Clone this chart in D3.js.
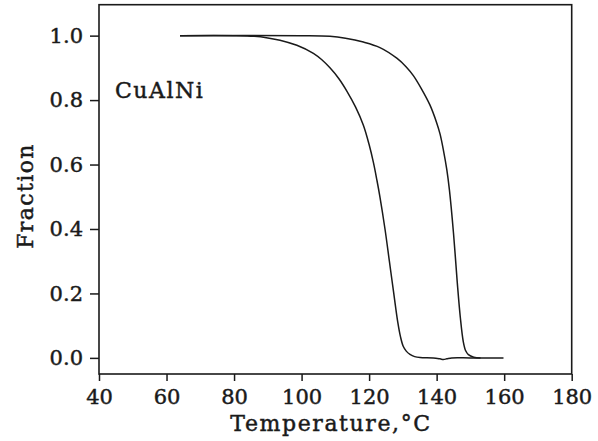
<!DOCTYPE html>
<html>
<head>
<meta charset="utf-8">
<script src="https://cdn.jsdelivr.net/npm/d3@7/dist/d3.min.js"></script>
<style>
  html, body { margin: 0; padding: 0; background: #fff; }
  svg { display: block; }
</style>
</head>
<body>
<div id="chart"></div>
<script>
// ---- data ----
const tempsA = [64, 80, 86, 90, 93.6, 98.6, 103.5, 106, 108.4, 111, 113.4, 116, 118.3, 120, 121.3, 122.3, 123.2, 124.7, 126, 127.3, 128.5, 129.3, 130.1, 131, 132.1, 133.5, 135.1, 139, 141, 142, 143, 144.5, 150, 159.8];
const fracA  = [1.0, 1.0, 0.998, 0.993, 0.986, 0.97, 0.945, 0.925, 0.9, 0.867, 0.828, 0.778, 0.722, 0.662, 0.605, 0.552, 0.5, 0.4, 0.3, 0.2, 0.11, 0.065, 0.036, 0.021, 0.011, 0.004, 0.001, 0.0, -0.003, -0.005, -0.003, 0.0, 0.0, 0.0];
const tempsB = [64, 100, 108.4, 113, 118.3, 123.2, 128.2, 131, 133.1, 135.5, 138.0, 140, 141, 142, 143, 143.8, 145.0, 146.1, 147.0, 147.9, 148.6, 149.4, 151, 153];
const fracB  = [1.0, 1.0, 0.998, 0.992, 0.98, 0.963, 0.93, 0.903, 0.876, 0.835, 0.785, 0.73, 0.695, 0.645, 0.585, 0.52, 0.386, 0.235, 0.127, 0.05, 0.022, 0.01, 0.002, 0.0];
const xTicks = [40, 60, 80, 100, 120, 140, 160, 180];
const yTicks = [0.0, 0.2, 0.4, 0.6, 0.8, 1.0];
const xTitle = "Temperature,°C";
const yTitle = "Fraction";
const annotation = "CuAlNi";

// ---- layout ----
const W = 598, H = 441;
const margin = {left: 99, right: 26.3, top: 4.7, bottom: 67};
const iw = W - margin.left - margin.right;
const ih = H - margin.top - margin.bottom;
const ink = "#1a1a1a";
const font = "'DejaVu Serif', serif";

const svg = d3.select("#chart").append("svg")
  .attr("width", W).attr("height", H);
const g = svg.append("g").attr("transform", `translate(${margin.left},${margin.top})`);

const x = d3.scaleLinear().domain([40, 180]).range([0, iw]);
const y = d3.scaleLinear().domain([-0.05, 1.096]).range([ih, 0]);

function styleText(sel, size) {
  sel.attr("fill", ink).attr("stroke", ink).attr("stroke-width", 0.45)
    .style("font-family", font).style("font-size", size + "px");
}

// axes
const xAxis = g.append("g").attr("transform", `translate(0,${ih})`)
  .call(d3.axisBottom(x).tickValues(xTicks).tickFormat(d3.format("d")).tickSize(7).tickPadding(8));
const yAxis = g.append("g")
  .call(d3.axisLeft(y).tickValues(yTicks).tickFormat(d3.format(".1f")).tickSize(9).tickPadding(7));
[xAxis, yAxis].forEach(a => {
  a.select(".domain").remove();
  a.selectAll(".tick line").attr("stroke", ink).attr("stroke-width", 1.5);
  styleText(a.selectAll(".tick text"), 21);
});

// frame
g.append("rect").attr("x", 0).attr("y", 0).attr("width", iw).attr("height", ih)
  .attr("fill", "none").attr("stroke", ink).attr("stroke-width", 1.6);

// curves
const line = d3.line().x(d => x(d[0])).y(d => y(d[1])).curve(d3.curveCatmullRom.alpha(0.5));
const seriesA = tempsA.map((t, i) => [t, fracA[i]]);
const seriesB = tempsB.map((t, i) => [t, fracB[i]]);
[seriesA, seriesB].forEach(s => {
  g.append("path").datum(s).attr("d", line)
    .attr("fill", "none").attr("stroke", ink).attr("stroke-width", 1.5);
});

// annotation
styleText(svg.append("text").attr("x", 115).attr("y", 97.7)
  .style("letter-spacing", "1.5px").text(annotation), 22);

// titles
styleText(svg.append("text").attr("x", 331).attr("y", 430.5).attr("text-anchor", "middle")
  .style("letter-spacing", "1.6px").text(xTitle), 22);
styleText(svg.append("text").attr("transform", "translate(33,196) rotate(-90)").attr("text-anchor", "middle")
  .style("letter-spacing", "1.4px").text(yTitle), 22);
</script>
</body>
</html>
